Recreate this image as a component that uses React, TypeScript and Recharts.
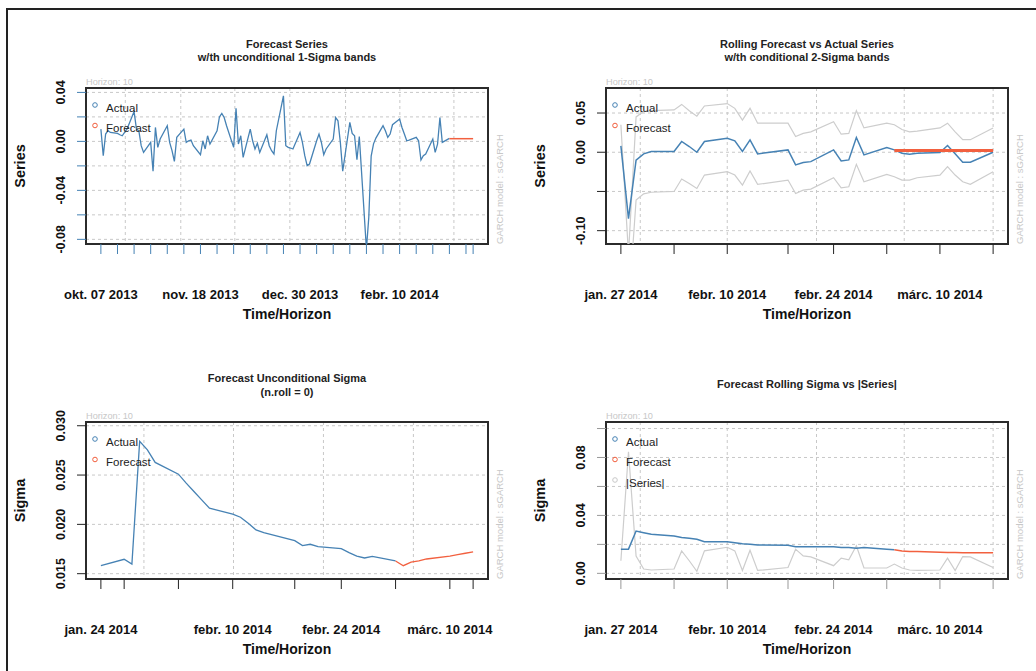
import React from 'react';
import { LineChart, Line, XAxis, YAxis, CartesianGrid, ReferenceArea } from 'recharts';

const FONT = '"Liberation Sans", Arial, Helvetica, sans-serif';
const BLUE = '#4682b4';
const RED = '#f2603f';
const BAND = '#cdcdcd';
const GRID = '#c8c8c8';

// ---------- panel 1: forecast series (x = calendar days since okt. 07 2013)
const p1Days = [
  0, 1, 2, 3, 4, 7, 8, 9, 10, 11, 14, 15, 16, 17, 18, 21, 22, 23, 24, 25,
  28, 29, 30, 31, 32, 35, 36, 37, 38, 39, 42, 43, 44, 45, 46, 49, 50, 51, 52, 53,
  56, 57, 58, 59, 60, 63, 64, 65, 66, 67, 70, 71, 72, 73, 74, 77, 78, 79, 80, 81,
  84, 85, 86, 87, 88, 91, 92, 93, 94, 95, 98, 99, 100, 101, 102, 105, 106, 107, 108, 109,
  112, 113, 114, 115, 116, 119, 120, 121, 122, 123, 126, 127, 128, 129, 130,
  133, 134, 135, 136, 137, 140, 141, 142, 143, 144, 147,
];
const p1Actual = [
  0.010, -0.0117, 0.006, 0.0087, 0.0073,
  0.0065, 0.0054, 0.0046, 0.0073, 0.010,
  0.0244, 0.010, 0.0087, -0.0035, -0.009,
  -0.0008, -0.0244, 0.0114, -0.0049, 0.0019,
  0.0128, -0.0008, -0.0076, -0.0163, 0.0033,
  0.010, -0.0008, 0.0005, 0.0011, -0.0035,
  -0.0109, 0.0005, -0.0062, 0.0046, -0.0022,
  0.0087, 0.020, 0.0228, 0.0195, 0.0128,
  -0.0049, 0.0271, -0.0022, 0.0046, -0.013,
  0.010, 0.0005, -0.0062, -0.0016, -0.009,
  0.0054, -0.0035, -0.0076, -0.0103, 0.0087,
  0.0372, -0.0035, -0.0049, -0.0054, -0.0062,
  0.0073, -0.0008, -0.0117, -0.0198, -0.0185,
  0.0005, 0.006, -0.0008, -0.0109, -0.0062,
  0.0019, 0.0195, 0.0168, -0.0008, -0.0244,
  0.0155, 0.0065, 0.0046, -0.015, 0.004,
  -0.088, -0.062, -0.012, -0.002, 0.0027,
  0.0128, 0.0087, 0.0033, 0.006, 0.0136,
  0.0182, 0.0114, 0.006, 0.0005, 0.0011,
  0.0033, 0.0005, -0.0152, -0.0117, -0.0103,
  0.0019, -0.009, -0.0022, 0.0195, -0.0008,
  0.0025,
];
const p1FcDays = [147, 148, 149, 150, 151, 154, 155, 156, 157];
const p1Forecast = [0.0022, 0.0022, 0.0022, 0.0022, 0.0022, 0.0022, 0.0022, 0.0022, 0.0022];
const p1XTicks = [0, 7, 14, 21, 28, 35, 42, 49, 56, 63, 70, 77, 84, 91, 98, 105, 112, 119, 126, 133, 140, 147, 154, 157];
const p1XLabelDays = [0, 42, 84, 126];
const p1XLabels = ['okt. 07 2013', 'nov. 18 2013', 'dec. 30 2013', 'febr. 10 2014'];
const p1XGrid = [10.3, 33.7, 56.5, 79.7, 103.2, 126.1, 148.9];
const p1YTicks = [-0.08, -0.06, -0.04, -0.02, 0, 0.02, 0.04];
const p1YLabels = ['-0.08', '', '-0.04', '', '0.00', '', '0.04'];

// ---------- panel 2: rolling forecast vs actual (x = calendar days since jan. 27 2014)
const p2Days = [
  0, 1, 2, 3, 4, 7, 8, 9, 10, 11, 14, 15, 16, 17, 18, 22, 23, 24, 25,
  28, 29, 30, 31, 32, 35, 36, 37, 38, 39, 42, 43, 44, 45, 46, 49,
];
const p2Actual = [
  0.0081, -0.0846, -0.010, -0.002, 0.0009,
  0.0009, 0.0137, 0.0073, 0.0, 0.0137,
  0.0179, 0.0145, 0.0009, 0.0158, -0.0021,
  0.003, -0.0162, -0.0132, -0.012,
  0.003, -0.0111, -0.0098, 0.0188, -0.0034,
  0.006, 0.003, -0.0013, -0.0026, -0.0013,
  -0.0004, 0.0085, -0.002, -0.0128, -0.0128,
  0.0,
];
const p2Upper = [
  0.035, -0.13, 0.045, 0.052, 0.053,
  0.054, 0.061, 0.053, 0.046, 0.059,
  0.062, 0.056, 0.041, 0.056, 0.037,
  0.037, 0.020, 0.024, 0.026,
  0.039, 0.023, 0.024, 0.053, 0.031,
  0.037, 0.035, 0.029, 0.026, 0.027,
  0.031, 0.037, 0.026, 0.016, 0.016,
  0.031,
];
const p2LowerDays = [
  1, 2, 3, 4, 7, 8, 9, 10, 11, 14, 15, 16, 17, 18, 22, 23, 24, 25,
  28, 29, 30, 31, 32, 35, 36, 37, 38, 39, 42, 43, 44, 45, 46, 49,
];
const p2Lower = [
  -0.2, -0.061, -0.053, -0.051,
  -0.050, -0.0342, -0.040, -0.0462, -0.0291,
  -0.0248, -0.0291, -0.0419, -0.0239, -0.041,
  -0.0355, -0.0526, -0.0484, -0.047,
  -0.0325, -0.0453, -0.044, -0.0154, -0.0376,
  -0.0282, -0.0312, -0.0355, -0.0355, -0.0325,
  -0.0291, -0.0184, -0.0291, -0.0376, -0.041,
  -0.0248,
];
const p2FcDays = [36, 37, 38, 39, 42, 43, 44, 45, 46, 49];
const p2Forecast = [0.0021, 0.0021, 0.0021, 0.0021, 0.0021, 0.0021, 0.0021, 0.0021, 0.0021, 0.0021];
const p2XTicks = [0, 7, 14, 22, 28, 35, 42, 49];
const p2XLabelDays = [0, 14, 28, 42];
const p2XLabels = ['jan. 27 2014', 'febr. 10 2014', 'febr. 24 2014', 'márc. 10 2014'];
const p2XGrid = [2.55, 14.0, 25.75, 37.3, 49.0];
const p2YTicks = [-0.1, -0.05, 0, 0.05];
const p2YLabels = ['-0.10', '', '0.00', '0.05'];

// ---------- panel 3: unconditional sigma (x = days since jan. 27 2014)
const p3Days = [-3, 0, 1, 2, 3, 4, 7, 8, 9, 10, 11, 14, 15, 16, 17, 18, 22, 23, 24, 25, 28, 29, 30, 31, 32, 35];
const p3Actual = [
  0.01581, 0.01646, 0.01598, 0.02841, 0.02756, 0.02628,
  0.02509, 0.02418, 0.02333, 0.02248, 0.02164,
  0.02103, 0.02072, 0.02011, 0.01944, 0.01916,
  0.01835, 0.01784, 0.01798, 0.01774,
  0.01754, 0.01713, 0.01679, 0.01659, 0.01676,
  0.01629,
];
const p3FcDays = [35, 36, 37, 38, 39, 42, 43, 44, 45];
const p3Forecast = [0.01629, 0.01581, 0.01618, 0.01629, 0.01649, 0.01679, 0.01693, 0.01707, 0.0172];
const p3XTicks = [-3, 0, 7, 14, 22, 28, 35, 42, 45];
const p3XLabelDays = [-3, 14, 28, 42];
const p3XLabels = ['jan. 24 2014', 'febr. 10 2014', 'febr. 24 2014', 'márc. 10 2014'];
const p3XGrid = [2.55, 14.1, 25.7, 37.3];
const p3YTicks = [0.015, 0.02, 0.025, 0.03];
const p3YLabels = ['0.015', '0.020', '0.025', '0.030'];

// ---------- panel 4: rolling sigma vs |series|
const p4SigmaDays = [0, 1, 2, 3, 4, 7, 8, 9, 10, 11, 14, 15, 16, 17, 18, 22, 23, 24, 25, 28, 29, 30, 31, 32, 35, 36];
const p4Sigma = [
  0.0167, 0.0167, 0.0292, 0.0281, 0.027,
  0.0258, 0.0247, 0.0242, 0.0235, 0.0219,
  0.0219, 0.0212, 0.0205, 0.0201, 0.0196,
  0.0194, 0.0183, 0.0183, 0.0183,
  0.0183, 0.0178, 0.0178, 0.0174, 0.0178,
  0.0167, 0.0163,
];
const p4FcDays = [36, 37, 38, 39, 42, 43, 44, 45, 46, 49];
const p4Forecast = [0.0163, 0.0155, 0.0151, 0.0151, 0.0146, 0.0144, 0.0144, 0.0142, 0.0142, 0.0142];
const p4AbsSeries = [
  0.0087, 0.084, 0.012, 0.003, 0.0023,
  0.003, 0.0155, 0.0087, 0.0014, 0.0155,
  0.018, 0.0155, 0.002, 0.016, 0.002,
  0.004, 0.0167, 0.012, 0.0114,
  0.0053, 0.0105, 0.0094, 0.019, 0.0037,
  0.0037, 0.0064, 0.0037, 0.0023, 0.002,
  0.0023, 0.0105, 0.002, 0.0116, 0.0114,
  0.004,
];
const p4YTicks = [0, 0.02, 0.04, 0.06, 0.08, 0.1];
const p4YLabels = ['0.00', '', '0.04', '', '0.08', ''];

const toRows = (xs: number[], ys: number[]) => xs.map((d, i) => ({ d, v: ys[i] }));

type SeriesDef = { xs: number[]; ys: number[]; color: string; width: number };

type PanelProps = {
  left: number;
  top: number;
  width: number;
  height: number;
  margin: { top: number; right: number; bottom: number; left: number };
  xDomain: [number, number];
  yDomain: [number, number];
  xTicks: number[];
  xLabelDays: number[];
  xLabels: string[];
  xGrid: number[];
  yTicks: number[];
  yLabels: string[];
  series: SeriesDef[];
  tickColor: string;
};

function Panel(p: PanelProps) {
  const XTick = (props: any) => {
    const { x, y, payload } = props;
    const idx = p.xLabelDays.indexOf(payload.value);
    if (idx < 0) return <g />;
    return (
      <text x={x} y={y + 45} textAnchor="middle" fontFamily={FONT} fontSize={13} fontWeight="bold" fill="#111">
        {p.xLabels[idx]}
      </text>
    );
  };
  const YTick = (props: any) => {
    const { x, y, payload } = props;
    const idx = p.yTicks.indexOf(payload.value);
    const label = idx >= 0 ? p.yLabels[idx] : '';
    if (!label) return <g />;
    const bx = x - 12;
    return (
      <text x={bx} y={y} transform={`rotate(-90 ${bx} ${y})`} textAnchor="middle" fontFamily={FONT} fontSize={12.5} fontWeight="bold" fill="#111">
        {label}
      </text>
    );
  };

  return (
    <div style={{ position: 'absolute', left: p.left, top: p.top }}>
      <LineChart width={p.width} height={p.height} margin={p.margin}>
        <CartesianGrid stroke={GRID} strokeDasharray="3 3" horizontalValues={p.yTicks} verticalValues={p.xGrid} />
        <XAxis
          type="number"
          dataKey="d"
          domain={p.xDomain}
          allowDataOverflow
          ticks={p.xTicks}
          interval={0}
          height={60}
          axisLine={false}
          tickSize={10}
          tickMargin={0}
          tickLine={{ stroke: p.tickColor }}
          tick={XTick}
        />
        <YAxis
          type="number"
          dataKey="v"
          domain={p.yDomain}
          allowDataOverflow
          ticks={p.yTicks}
          interval={0}
          width={40}
          axisLine={false}
          tickSize={9}
          tickMargin={0}
          tickLine={{ stroke: p.tickColor }}
          tick={YTick}
        />
        {p.series.map((s, i) => (
          <Line
            key={i}
            data={toRows(s.xs, s.ys)}
            dataKey="v"
            type="linear"
            stroke={s.color}
            strokeWidth={s.width}
            dot={false}
            activeDot={false}
            isAnimationActive={false}
          />
        ))}
        <ReferenceArea
          x1={p.xDomain[0]}
          x2={p.xDomain[1]}
          y1={p.yDomain[0]}
          y2={p.yDomain[1]}
          fill="none"
          stroke="#2b2b2b"
          strokeWidth={2}
          ifOverflow="visible"
        />
      </LineChart>
    </div>
  );
}

type LegendItem = { label: string; color: string };

function PanelText(props: {
  bx0: number;
  bx1: number;
  by0: number;
  by1: number;
  titles: string[];
  titleY: number[];
  yTitle: string;
  legend: LegendItem[];
}) {
  const { bx0, bx1, by0, by1, titles, titleY, yTitle, legend } = props;
  const cx = (bx0 + bx1) / 2;
  const cy = (by0 + by1) / 2;
  const yt = bx0 - 61;
  const gx = bx1 + 15;
  return (
    <g fontFamily={FONT}>
      {titles.map((t, i) => (
        <text key={t} x={cx} y={titleY[i]} textAnchor="middle" fontSize={11} fontWeight="bold" fill="#222">
          {t}
        </text>
      ))}
      <text x={bx0} y={by0 - 3} fontSize={9.2} fill="#c8c8c8">
        Horizon: 10
      </text>
      <text x={gx} y={by1} transform={`rotate(-90 ${gx} ${by1})`} fontSize={9.5} fill="#c8c8c8">
        GARCH model : sGARCH
      </text>
      <text x={yt} y={cy} transform={`rotate(-90 ${yt} ${cy})`} textAnchor="middle" fontSize={14.5} fontWeight="bold" fill="#111">
        {yTitle}
      </text>
      <text x={cx} y={by1 + 75} textAnchor="middle" fontSize={14} fontWeight="bold" fill="#111">
        Time/Horizon
      </text>
      {legend.map((l, i) => (
        <g key={l.label}>
          <circle cx={bx0 + 9} cy={by0 + 17 + 20.5 * i} r={2.3} fill="none" stroke={l.color} strokeWidth={1} />
          <text x={bx0 + 20} y={by0 + 23.5 + 20.5 * i} fontSize={11.5} fill="#222">
            {l.label}
          </text>
        </g>
      ))}
    </g>
  );
}

const legend2: LegendItem[] = [
  { label: 'Actual', color: BLUE },
  { label: 'Forecast', color: RED },
];
const legend3: LegendItem[] = [...legend2, { label: '|Series|', color: '#c8c8c8' }];

export default function App() {
  return (
    <div style={{ position: 'absolute', left: 0, top: 0, width: 1036, height: 671, background: '#fff' }}>
      <Panel
        left={0}
        top={0}
        width={518}
        height={335}
        margin={{ top: 88, right: 30, bottom: 31, left: 46 }}
        xDomain={[-6.28, 163.28]}
        yDomain={[-0.0838, 0.0436]}
        xTicks={p1XTicks}
        xLabelDays={p1XLabelDays}
        xLabels={p1XLabels}
        xGrid={p1XGrid}
        yTicks={p1YTicks}
        yLabels={p1YLabels}
        tickColor={BLUE}
        series={[
          { xs: p1Days, ys: p1Actual, color: BLUE, width: 1.3 },
          { xs: p1FcDays, ys: p1Forecast, color: RED, width: 1.5 },
        ]}
      />
      <Panel
        left={518}
        top={0}
        width={518}
        height={335}
        margin={{ top: 88, right: 28, bottom: 31, left: 48 }}
        xDomain={[-1.96, 50.96]}
        yDomain={[-0.117, 0.0819]}
        xTicks={p2XTicks}
        xLabelDays={p2XLabelDays}
        xLabels={p2XLabels}
        xGrid={p2XGrid}
        yTicks={p2YTicks}
        yLabels={p2YLabels}
        tickColor="#222"
        series={[
          { xs: p2Days, ys: p2Upper, color: BAND, width: 1.2 },
          { xs: p2LowerDays, ys: p2Lower, color: BAND, width: 1.2 },
          { xs: p2Days, ys: p2Actual, color: BLUE, width: 1.5 },
          { xs: p2FcDays, ys: p2Forecast, color: RED, width: 3 },
        ]}
      />
      <Panel
        left={0}
        top={335}
        width={518}
        height={336}
        margin={{ top: 87, right: 30, bottom: 32, left: 46 }}
        xDomain={[-4.92, 46.92]}
        yDomain={[0.01446, 0.03038]}
        xTicks={p3XTicks}
        xLabelDays={p3XLabelDays}
        xLabels={p3XLabels}
        xGrid={p3XGrid}
        yTicks={p3YTicks}
        yLabels={p3YLabels}
        tickColor="#222"
        series={[
          { xs: p3Days, ys: p3Actual, color: BLUE, width: 1.3 },
          { xs: p3FcDays, ys: p3Forecast, color: RED, width: 1.3 },
        ]}
      />
      <Panel
        left={518}
        top={335}
        width={518}
        height={336}
        margin={{ top: 87, right: 28, bottom: 32, left: 48 }}
        xDomain={[-1.96, 50.96]}
        yDomain={[-0.0039, 0.1045]}
        xTicks={p2XTicks}
        xLabelDays={p2XLabelDays}
        xLabels={p2XLabels}
        xGrid={p2XGrid}
        yTicks={p4YTicks}
        yLabels={p4YLabels}
        tickColor="#999"
        series={[
          { xs: p2Days, ys: p4AbsSeries, color: BAND, width: 1.2 },
          { xs: p4SigmaDays, ys: p4Sigma, color: BLUE, width: 1.5 },
          { xs: p4FcDays, ys: p4Forecast, color: RED, width: 1.5 },
        ]}
      />
      <svg width={1036} height={671} style={{ position: 'absolute', left: 0, top: 0, pointerEvents: 'none' }}>
        <path d="M7 671 V9 H1036" fill="none" stroke="#222" strokeWidth={2} />
        <PanelText
          bx0={86}
          bx1={488}
          by0={88}
          by1={244}
          titles={['Forecast Series', 'w/th unconditional 1-Sigma bands']}
          titleY={[48, 61]}
          yTitle="Series"
          legend={legend2}
        />
        <PanelText
          bx0={606}
          bx1={1008}
          by0={88}
          by1={244}
          titles={['Rolling Forecast vs Actual Series', 'w/th conditional 2-Sigma bands']}
          titleY={[48, 61]}
          yTitle="Series"
          legend={legend2}
        />
        <PanelText
          bx0={86}
          bx1={488}
          by0={422}
          by1={579}
          titles={['Forecast Unconditional Sigma', '(n.roll = 0)']}
          titleY={[382, 396]}
          yTitle="Sigma"
          legend={legend2}
        />
        <PanelText
          bx0={606}
          bx1={1008}
          by0={422}
          by1={579}
          titles={['Forecast Rolling Sigma vs |Series|']}
          titleY={[388]}
          yTitle="Sigma"
          legend={legend3}
        />
      </svg>
    </div>
  );
}
